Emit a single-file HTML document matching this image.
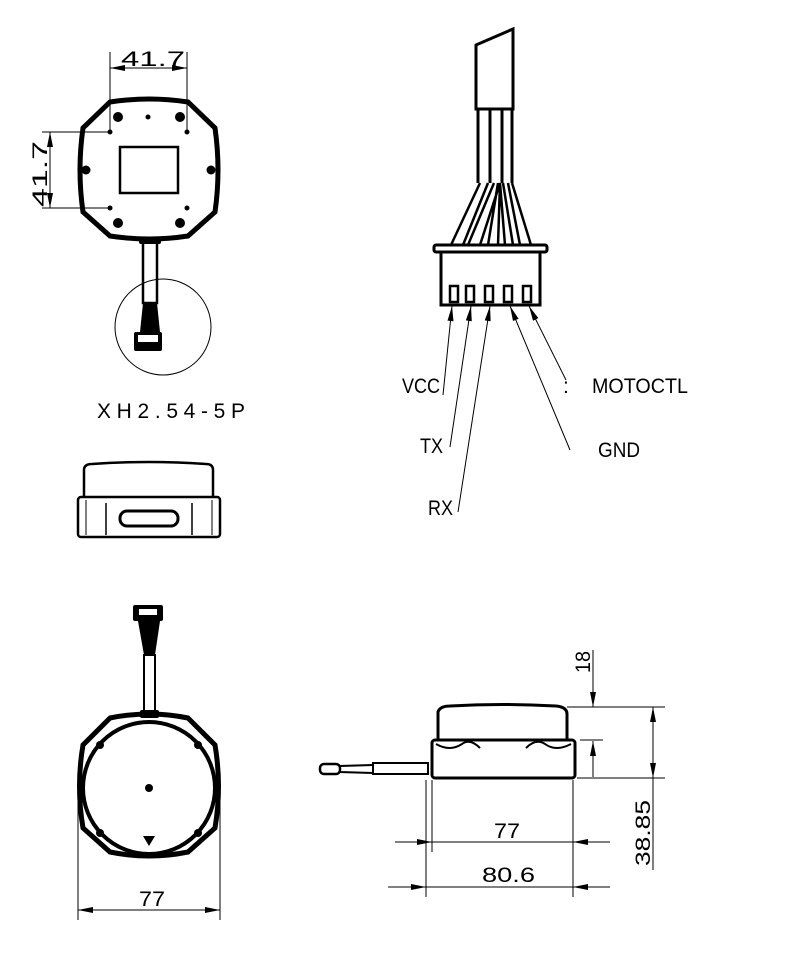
<!DOCTYPE html>
<html><head><meta charset="utf-8"><style>
html,body{margin:0;padding:0;background:#fff;}
svg{display:block;}
text{font-family:"Liberation Sans",sans-serif;font-size:21px;fill:#000;}
</style></head><body>
<svg width="786" height="970" viewBox="0 0 786 970" xmlns="http://www.w3.org/2000/svg">
<defs>
<marker id="a" viewBox="0 0 10 4" refX="10" refY="2" markerWidth="16" markerHeight="6" orient="auto-start-reverse" markerUnits="userSpaceOnUse"><path d="M0,0 L10,2 L0,4z" fill="#000"/></marker>
</defs>
<g fill="none" stroke="#000">
<line x1="110" y1="52" x2="110" y2="130" stroke-width="1"/>
<line x1="187" y1="52" x2="187" y2="130" stroke-width="1"/>
<line x1="110" y1="68" x2="187" y2="68" stroke-width="1" marker-start="url(#a)" marker-end="url(#a)"/>
<line x1="42" y1="132" x2="108" y2="132" stroke-width="1"/>
<line x1="42" y1="208" x2="108" y2="208" stroke-width="1"/>
<line x1="50" y1="132" x2="50" y2="208" stroke-width="1" marker-start="url(#a)" marker-end="url(#a)"/>
<path d="M110,102 Q149,96 188,102 L215,128 Q221,170 215,212 L188,236 Q149,242 110,236 L83,212 Q77,170 83,128 Z" stroke-width="5"/>
<rect x="120" y="147" width="58" height="46" stroke-width="2.5"/>
<rect x="143" y="240" width="14" height="63" stroke-width="2.5"/>
<circle cx="163" cy="327" r="48" stroke-width="1"/>
<path d="M84,497 L84,470 Q84,464 92,464 Q149,460 206,464 Q213,464 213,470 L213,497" stroke-width="2.5"/>
<rect x="78" y="497" width="142" height="40" rx="3" stroke-width="2.5"/>
<line x1="86" y1="500" x2="86" y2="535" stroke-width="1"/>
<line x1="212" y1="500" x2="212" y2="535" stroke-width="1"/>
<line x1="106" y1="503" x2="106" y2="535" stroke-width="1.5"/>
<line x1="192" y1="503" x2="192" y2="535" stroke-width="1.5"/>
<rect x="120" y="511" width="58" height="15" rx="7" stroke-width="3"/>
<path d="M110,718 Q149,710 188,718 L215,745 Q222,786 215,828 L188,852 Q149,860 110,852 L83,828 Q76,786 83,745 Z" stroke-width="5"/>
<circle cx="149" cy="788" r="66" stroke-width="4"/>
<rect x="144" y="655" width="11" height="58" stroke-width="2"/>
<line x1="78" y1="800" x2="78" y2="920" stroke-width="1"/>
<line x1="220" y1="800" x2="220" y2="920" stroke-width="1"/>
<line x1="78" y1="910" x2="220" y2="910" stroke-width="1" marker-start="url(#a)" marker-end="url(#a)"/>
<path d="M476,45 L513,29 L513,109 L476,109 Z" stroke-width="3"/>
<line x1="478" y1="109" x2="478" y2="183" stroke-width="3"/>
<line x1="490" y1="109" x2="490" y2="183" stroke-width="3"/>
<line x1="502" y1="109" x2="502" y2="183" stroke-width="3"/>
<line x1="512" y1="109" x2="512" y2="183" stroke-width="3"/>
<path d="M480,183 L451,245 M488,183 L463,245 M494,183 L468,245 M500,183 L480,245 M498,183 L488,245 M500,183 L498,245 M500,183 L505,245 M503,183 L513,245 M508,183 L520,245 M512,183 L531,245" stroke-width="2.5"/>
<rect x="434" y="245" width="113" height="7" rx="2" stroke-width="3"/>
<path d="M441,252 L441,305 L540,305 L540,252" stroke-width="3"/>
<g stroke-width="2.5">
<rect x="450" y="286" width="8" height="16"/><rect x="466" y="286" width="8" height="16"/><rect x="485" y="286" width="8" height="16"/><rect x="504" y="286" width="8" height="16"/><rect x="523" y="286" width="8" height="16"/>
</g>
<g stroke-width="1">
<line x1="443" y1="395" x2="452" y2="306" marker-end="url(#a)"/>
<line x1="450" y1="447" x2="471" y2="306" marker-end="url(#a)"/>
<line x1="458" y1="512" x2="490" y2="306" marker-end="url(#a)"/>
<line x1="570" y1="450" x2="510" y2="306" marker-end="url(#a)"/>
<line x1="566" y1="380" x2="529" y2="306" marker-end="url(#a)"/>
</g>
<path d="M438,740 L438,712 Q440,706 450,706 Q502,703 556,706 Q567,707 567,714 L567,740" stroke-width="3"/>
<rect x="432" y="740" width="143" height="38" rx="3" stroke-width="3"/>
<path d="M436,744 Q450,752 462,744 Q470,738 480,748 M571,744 Q556,752 545,744 Q536,738 526,748" stroke-width="2"/>
<rect x="373" y="763" width="55" height="11" stroke-width="2"/>
<path d="M373,765 L340,766 L340,772 L373,773" stroke-width="2"/>
<rect x="320" y="764" width="20" height="10" rx="4" stroke-width="2.5"/>
<line x1="567" y1="707" x2="665" y2="707" stroke-width="1"/>
<line x1="580" y1="740" x2="603" y2="740" stroke-width="1"/>
<line x1="577" y1="778" x2="665" y2="778" stroke-width="1"/>
<line x1="593" y1="650" x2="593" y2="707" stroke-width="1" marker-end="url(#a)"/>
<line x1="593" y1="777" x2="593" y2="741" stroke-width="1" marker-end="url(#a)"/>
<line x1="653" y1="707" x2="653" y2="778" stroke-width="1" marker-start="url(#a)" marker-end="url(#a)"/>
<line x1="653" y1="778" x2="653" y2="870" stroke-width="1"/>
<line x1="432" y1="780" x2="432" y2="852" stroke-width="1"/>
<line x1="426" y1="780" x2="426" y2="897" stroke-width="1"/>
<line x1="573" y1="780" x2="573" y2="897" stroke-width="1"/>
<line x1="395" y1="842" x2="432" y2="842" stroke-width="1" marker-end="url(#a)"/>
<line x1="432" y1="842" x2="573" y2="842" stroke-width="1"/>
<line x1="610" y1="842" x2="573" y2="842" stroke-width="1" marker-end="url(#a)"/>
<line x1="388" y1="887" x2="426" y2="887" stroke-width="1" marker-end="url(#a)"/>
<line x1="426" y1="887" x2="573" y2="887" stroke-width="1"/>
<line x1="610" y1="887" x2="573" y2="887" stroke-width="1" marker-end="url(#a)"/>
</g>
<g fill="#000">
<circle cx="118" cy="117" r="5"/><circle cx="180" cy="117" r="5"/><circle cx="148" cy="117" r="2.5"/>
<circle cx="110" cy="132" r="2.5"/><circle cx="187" cy="132" r="2.5"/>
<circle cx="86" cy="170" r="4.5"/><circle cx="211" cy="170" r="4.5"/>
<circle cx="110" cy="208" r="2.5"/><circle cx="187" cy="208" r="2.5"/>
<circle cx="118" cy="223" r="5"/><circle cx="180" cy="223" r="5"/>
<rect x="139" y="237" width="22" height="7" rx="2"/>
<path d="M143,303 L157,303 L160,332 L140,332 Z"/>
<rect x="134" y="332" width="28" height="19" rx="2"/>
<rect x="138" y="335" width="20" height="7" fill="#fff"/>
<circle cx="149" cy="788" r="4"/>
<path d="M143,836 L155,836 L149,846 Z"/>
<rect x="133" y="605" width="30" height="16" rx="2"/>
<rect x="139" y="609" width="18" height="6" fill="#fff"/>
<path d="M138,621 L160,621 L155,655 L144,655 Z"/>
<rect x="140" y="710" width="19" height="8" rx="2"/>
<circle cx="100" cy="745" r="4"/><circle cx="198" cy="745" r="4"/><circle cx="100" cy="833" r="4"/><circle cx="198" cy="833" r="4"/>
</g>
<text x="121" y="66" textLength="64" lengthAdjust="spacingAndGlyphs">41.7</text>
<text transform="translate(47,207) rotate(-90)" textLength="66" lengthAdjust="spacingAndGlyphs">41.7</text>
<text x="97" y="418" textLength="148" lengthAdjust="spacing">XH2.54-5P</text>
<text x="402" y="393" textLength="38" lengthAdjust="spacingAndGlyphs">VCC</text>
<text x="420" y="453" textLength="23" lengthAdjust="spacingAndGlyphs">TX</text>
<text x="428" y="515" textLength="25" lengthAdjust="spacingAndGlyphs">RX</text>
<text x="563" y="393">:</text>
<text x="592" y="393" textLength="96" lengthAdjust="spacingAndGlyphs">MOTOCTL</text>
<text x="598" y="457" textLength="42" lengthAdjust="spacingAndGlyphs">GND</text>
<text x="139" y="906" textLength="26" lengthAdjust="spacingAndGlyphs">77</text>
<text x="494" y="838" textLength="26" lengthAdjust="spacingAndGlyphs">77</text>
<text x="482" y="882" textLength="53" lengthAdjust="spacingAndGlyphs">80.6</text>
<text transform="translate(590,673) rotate(-90)" textLength="22" lengthAdjust="spacingAndGlyphs">18</text>
<text transform="translate(650,866) rotate(-90)" textLength="66" lengthAdjust="spacingAndGlyphs">38.85</text>
</svg>
</body></html>
